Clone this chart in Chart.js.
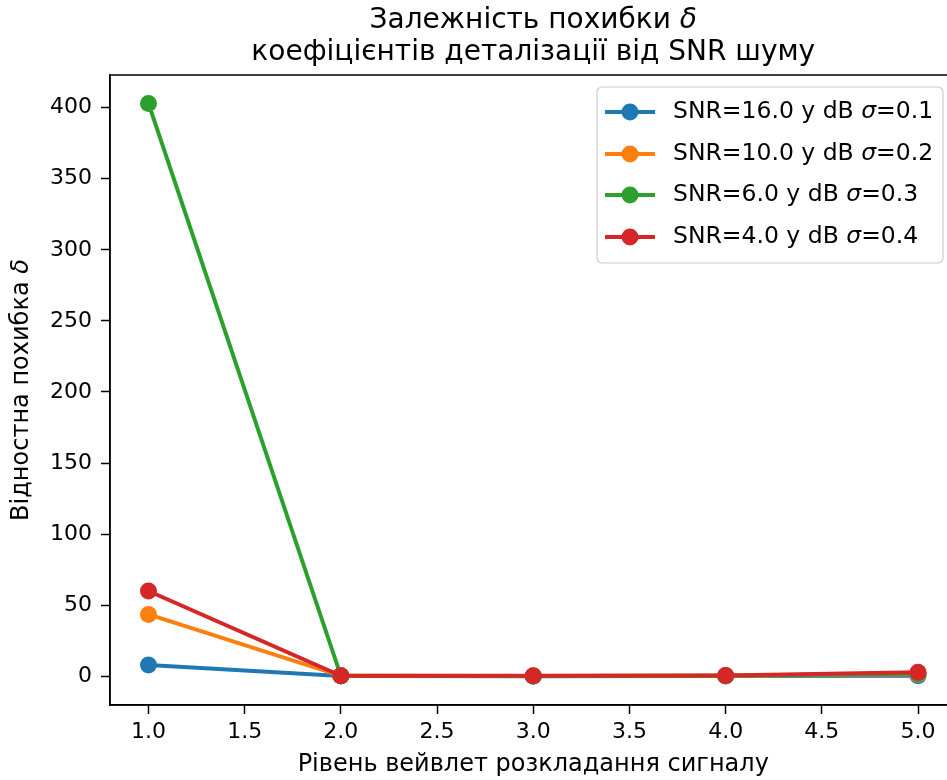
<!DOCTYPE html>
<html>
<head>
<meta charset="utf-8">
<script src="https://cdn.jsdelivr.net/npm/chart.js@4.4.0/dist/chart.umd.min.js"></script>
<style>
  html, body { margin: 0; padding: 0; background: #fff; overflow: hidden; }
  #wrap { width: 947px; height: 780px; overflow: hidden; }
</style>
</head>
<body>
<div id="wrap"><canvas id="myChart" width="965" height="780"></canvas></div>
<script>
// рівні розкладання
var levels = [1, 2, 3, 4, 5];

// похибки для кожного рівня шуму
var errSnr16 = [8, 0.2, 0.1, 0.2, 0.4];
var errSnr10 = [43.5, 0.3, 0.2, 0.4, 1.5];
var errSnr6  = [403, 0.3, 0.2, 0.4, 2.0];
var errSnr4  = [60, 0.4, 0.3, 0.5, 2.8];

var snrLabels = ['SNR=16.0 у dB', 'SNR=10.0 у dB', 'SNR=6.0 у dB', 'SNR=4.0 у dB'];
var sigmaLabels = ['0.1', '0.2', '0.3', '0.4'];
var colors = ['#1f77b4', '#ff7f0e', '#2ca02c', '#d62728'];

var xTicks = [1.0, 1.5, 2.0, 2.5, 3.0, 3.5, 4.0, 4.5, 5.0];
var yTicks = [0, 50, 100, 150, 200, 250, 300, 350, 400];

var FONT = "'DejaVu Sans', sans-serif";
var FS = 22;

function toPoints(arr) {
    var out = [];
    for (var i = 0; i < arr.length; i++) {
        out.push({x: levels[i], y: arr[i]});
    }
    return out;
}

var series = [errSnr16, errSnr10, errSnr6, errSnr4];
var datasets = [];
for (var s = 0; s < series.length; s++) {
    datasets.push({
        label: snrLabels[s] + ' σ=' + sigmaLabels[s],
        data: toPoints(series[s]),
        borderColor: colors[s],
        backgroundColor: colors[s],
        borderWidth: 4,
        pointRadius: 8.5,
        pointHoverRadius: 8.5,
        pointBorderWidth: 0,
        tension: 0,
        order: series.length - s
    });
}

// малюємо текст з курсивною частиною (як mathtext)
function drawParts(ctx, parts, x, y, align) {
    var total = 0;
    for (var i = 0; i < parts.length; i++) {
        ctx.font = (parts[i][1] ? 'italic ' : '') + parts[i][2] + 'px ' + FONT;
        total += ctx.measureText(parts[i][0]).width;
    }
    var cx = align === 'center' ? x - total / 2 : x;
    ctx.textAlign = 'left';
    for (var j = 0; j < parts.length; j++) {
        ctx.font = (parts[j][1] ? 'italic ' : '') + parts[j][2] + 'px ' + FONT;
        ctx.fillText(parts[j][0], cx, y);
        cx += ctx.measureText(parts[j][0]).width;
    }
}

var decorPlugin = {
    id: 'decor',
    afterDraw: function (chart) {
        var ctx = chart.ctx;
        var area = chart.chartArea;
        var midX = (area.left + area.right) / 2;
        ctx.save();

        // рамка осей
        ctx.strokeStyle = '#000';
        ctx.lineWidth = 1.5;
        ctx.strokeRect(area.left, area.top, area.right - area.left, area.bottom - area.top);

        ctx.fillStyle = '#000';
        ctx.textBaseline = 'middle';

        // заголовок
        drawParts(ctx, [['Залежність похибки ', false, 28], ['δ', true, 28]], midX, 21, 'center');
        drawParts(ctx, [['коефіцієнтів деталізації від SNR шуму', false, 28]], midX, 53, 'center');

        // підписи осей
        drawParts(ctx, [['Рівень вейвлет розкладання сигналу', false, 24]], midX, 765, 'center');
        ctx.save();
        ctx.translate(22, (area.top + area.bottom) / 2);
        ctx.rotate(-Math.PI / 2);
        drawParts(ctx, [['Відностна похибка ', false, 24], ['δ', true, 24]], 0, 0, 'center');
        ctx.restore();

        // легенда
        var bx = 597, by = 87, bw = 346, bh = 176;
        ctx.fillStyle = 'rgba(255,255,255,0.8)';
        ctx.strokeStyle = '#cccccc';
        ctx.lineWidth = 1.2;
        ctx.beginPath();
        ctx.roundRect(bx, by, bw, bh, 5);
        ctx.fill();
        ctx.stroke();
        var rowY = [112, 154, 195, 237];
        for (var i = 0; i < snrLabels.length; i++) {
            var ry = rowY[i];
            ctx.strokeStyle = colors[i];
            ctx.lineWidth = 4;
            ctx.beginPath();
            ctx.moveTo(605, ry);
            ctx.lineTo(655, ry);
            ctx.stroke();
            ctx.fillStyle = colors[i];
            ctx.beginPath();
            ctx.arc(630, ry, 8.5, 0, Math.PI * 2);
            ctx.fill();
            ctx.fillStyle = '#000';
            drawParts(ctx, [[snrLabels[i] + ' ', false, 23.5], ['σ', true, 23.5], ['=' + sigmaLabels[i], false, 23.5]], 673, ry, 'left');
        }
        ctx.restore();
    }
};

var ctx = document.getElementById('myChart').getContext('2d');
var chart = new Chart(ctx, {
    type: 'line',
    data: { datasets: datasets },
    plugins: [decorPlugin],
    options: {
        responsive: false,
        animation: false,
        events: [],
        layout: { padding: { top: 75, right: 4, left: 0, bottom: 0 } },
        plugins: {
            legend: { display: false },
            title: { display: false },
            tooltip: { enabled: false }
        },
        scales: {
            x: {
                type: 'linear',
                min: 0.8,
                max: 5.2,
                afterBuildTicks: function (scale) {
                    scale.ticks = xTicks.map(function (v) { return {value: v}; });
                },
                afterFit: function (scale) { scale.height = 75; },
                ticks: {
                    color: '#000',
                    padding: 5,
                    font: { family: FONT, size: FS },
                    callback: function (v) { return Number(v).toFixed(1); }
                },
                grid: {
                    drawOnChartArea: false,
                    drawTicks: true,
                    tickLength: 9,
                    tickWidth: 1.5,
                    tickColor: '#000'
                },
                border: { display: true, color: '#000', width: 1.5 }
            },
            y: {
                type: 'linear',
                min: -20.2,
                max: 423,
                afterBuildTicks: function (scale) {
                    scale.ticks = yTicks.map(function (v) { return {value: v}; });
                },
                afterFit: function (scale) { scale.width = 110; },
                ticks: {
                    color: '#000',
                    padding: 9,
                    font: { family: FONT, size: FS }
                },
                grid: {
                    drawOnChartArea: false,
                    drawTicks: true,
                    tickLength: 9,
                    tickWidth: 1.5,
                    tickColor: '#000'
                },
                border: { display: true, color: '#000', width: 1.5 }
            }
        }
    }
});
</script>
</body>
</html>
